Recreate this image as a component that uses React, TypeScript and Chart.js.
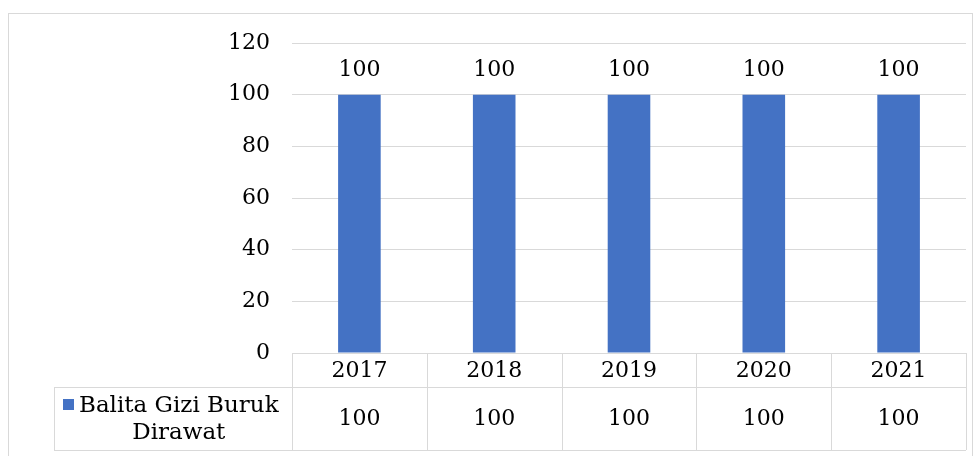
import React, { useEffect, useRef } from "react";
import { Chart, registerables } from "chart.js";

Chart.register(...registerables);

const categories = ["2017", "2018", "2019", "2020", "2021"];
const seriesName = "Balita Gizi Buruk Dirawat";
const seriesLines = ["Balita Gizi Buruk", "Dirawat"];
const values = [100, 100, 100, 100, 100];
const yTicks = [0, 20, 40, 60, 80, 100, 120];

const FONT = "'DejaVu Serif', 'Liberation Serif', serif";
const FS = 22;
const FS_LEG = 23;
const BLUE = "#4472c4";
const GRID = "#d9d9d9";
const TEXT = "#000000";

const tablePlugin = {
  id: "tablePlugin",
  afterDraw(chart: any) {
    const ctx = chart.ctx;
    const area = chart.chartArea;
    const x = chart.scales.x;
    const n = categories.length;
    const colW = (area.right - area.left) / n;
    const top = area.bottom;
    const mid = top + 34;
    const bottom = top + 97;
    const legendLeft = 54;
    ctx.save();
    ctx.strokeStyle = GRID;
    ctx.lineWidth = 1;
    const line = (x1: number, y1: number, x2: number, y2: number) => {
      ctx.beginPath();
      ctx.moveTo(x1, y1);
      ctx.lineTo(x2, y2);
      ctx.stroke();
    };
    // outer border
    ctx.strokeRect(8.5, 13.5, 964, 460);
    // table lines
    for (let i = 0; i <= n; i++) {
      const xx = Math.round(area.left + i * colW) + 0.5;
      line(xx, top, xx, bottom);
    }
    line(legendLeft + 0.5, mid, legendLeft + 0.5, bottom);
    line(legendLeft, Math.round(mid) + 0.5, area.right, Math.round(mid) + 0.5);
    line(legendLeft, Math.round(bottom) + 0.5, area.right, Math.round(bottom) + 0.5);

    ctx.fillStyle = TEXT;
    ctx.font = `${FS}px ${FONT}`;
    ctx.textAlign = "center";
    ctx.textBaseline = "middle";
    categories.forEach((c, i) => {
      const cx = x.getPixelForValue(i);
      ctx.fillText(c, cx, top + 18);
      ctx.fillText(String(values[i]), cx, (mid + bottom) / 2 + 1);
    });
    // legend cell
    ctx.font = `${FS_LEG}px ${FONT}`;
    const l1w = ctx.measureText(seriesLines[0]).width;
    const textLeft = 79;
    ctx.fillStyle = BLUE;
    ctx.fillRect(63, 399, 11, 11);
    ctx.fillStyle = TEXT;
    ctx.textAlign = "left";
    ctx.fillText(seriesLines[0], textLeft, 406);
    ctx.textAlign = "center";
    ctx.fillText(seriesLines[1], textLeft + l1w / 2, 433);
    ctx.restore();
  },
  afterDatasetsDraw(chart: any) {
    const ctx = chart.ctx;
    const meta = chart.getDatasetMeta(0);
    ctx.save();
    ctx.fillStyle = TEXT;
    ctx.font = `${FS}px ${FONT}`;
    ctx.textAlign = "center";
    ctx.textBaseline = "middle";
    meta.data.forEach((bar: any, i: number) => {
      ctx.fillText(String(values[i]), bar.x, bar.y - 24);
    });
    ctx.restore();
  },
};

export default function App() {
  const ref = useRef<HTMLCanvasElement>(null);
  useEffect(() => {
    if (!ref.current) return;
    const chart = new Chart(ref.current, {
      type: "bar",
      data: {
        labels: categories,
        datasets: [
          {
            label: seriesName,
            data: values,
            backgroundColor: BLUE,
            borderWidth: 0,
            barPercentage: 0.316,
            categoryPercentage: 1,
          },
        ],
      },
      options: {
        responsive: false,
        animation: false,
        layout: { padding: { top: 43, bottom: 103, right: 14, left: 0 } },
        plugins: { legend: { display: false }, tooltip: { enabled: false } },
        scales: {
          x: { display: false, offset: true },
          y: {
            min: 0,
            max: 120,
            afterFit(scale: any) {
              scale.width = 292;
            },
            afterBuildTicks(scale: any) {
              scale.ticks = yTicks.map((v) => ({ value: v }));
            },
            ticks: {
              padding: 22,
              color: TEXT,
              font: { family: FONT, size: FS },
            },
            grid: { color: GRID, drawTicks: false, lineWidth: 1 },
            border: { display: false },
          },
        },
      },
      plugins: [tablePlugin],
    });
    return () => chart.destroy();
  }, []);
  return (
    <div style={{ position: "fixed", left: 0, top: 0, width: 980, height: 456, background: "#fff" }}>
      <canvas ref={ref} width={980} height={456} style={{ display: "block" }} />
    </div>
  );
}
